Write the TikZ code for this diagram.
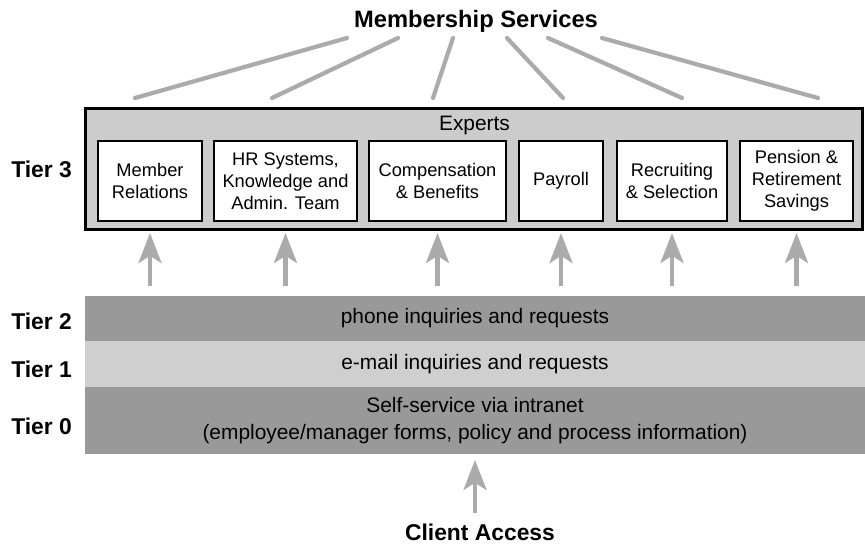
\documentclass[tikz,border=0pt]{standalone}
\usepackage{fontspec}
\setmainfont{Liberation Sans}
\usetikzlibrary{positioning, arrows.meta}

\definecolor{framegray}{gray}{0.80}
\definecolor{darkband}{gray}{0.60}
\definecolor{lightband}{gray}{0.81}
\definecolor{spokegray}{gray}{0.67}

\begin{document}
\begin{tikzpicture}[x=0.02cm, y=-0.02cm,
    tierlabel/.style={font=\fontsize{13}{15}\selectfont\bfseries, inner sep=0pt},
    expert/.style={draw, line width=1.1pt, fill=white, minimum height=1.6cm, align=center, inner sep=0pt, font=\fontsize{10.4}{12.5}\selectfont},
    band/.style={minimum width=15.6cm, inner sep=0pt, outer sep=0pt, align=center, font=\fontsize{11.9}{15.3}\selectfont},
    spoke/.style={draw=spokegray, line width=2.4pt, line cap=round},
    uparrow/.style={draw=spokegray, line width=2.8pt, -{Stealth[length=17pt, width=13pt, inset=4pt]}}]
        \useasboundingbox (0,0) rectangle (865,544);
        % Experts frame
        \node[draw, line width=1.7pt, fill=framegray, minimum width=15.54cm, minimum height=2.42cm, inner sep=0pt] (experts) at (474,169) {};
        \node[font=\fontsize{11.9}{14}\selectfont, inner sep=0pt, anchor=base] (exphead) at (474.5,131) {Experts};
        \node[expert, minimum width=2.08cm] (mem) at (150,181) {Member\\Relations};
        \node[expert, minimum width=2.86cm] (hr) at (285.5,181) {HR Systems,\\Knowledge and\\Admin. Team};
        \node[expert, minimum width=2.74cm] (comp) at (437.5,181) {Compensation\\\& Benefits};
        \node[expert, minimum width=1.68cm] (pay) at (561,181) {Payroll};
        \node[expert, minimum width=2.2cm] (rec) at (672,181) {Recruiting\\\& Selection};
        \node[expert, minimum width=2.26cm] (pen) at (796.5,181) {Pension \&\\Retirement\\Savings};
        % Tier bands
        \node[band, fill=darkband, minimum height=0.9cm] (tier2) at (475,318.5) {phone inquiries and requests};
        \node[band, fill=lightband, minimum height=0.92cm, below=0pt of tier2] (tier1) {e-mail inquiries and requests};
        \node[band, fill=darkband, minimum height=1.34cm, below=0pt of tier1] (tier0) {Self-service via intranet\\(employee/manager forms, policy and process information)};
        % Labels
        \node[tierlabel, font=\fontsize{13.5}{15}\selectfont\bfseries, anchor=base] (title) at (476,28) {Membership Services};
        \node[tierlabel, anchor=base] (access) at (480,540) {Client Access};
        \node[tierlabel, anchor=base west] (t3) at (11,177) {Tier 3};
        \node[tierlabel, anchor=base west] (t2) at (11,329) {Tier 2};
        \node[tierlabel, anchor=base west] (t1) at (11,377) {Tier 1};
        \node[tierlabel, anchor=base west] (t0) at (11,434) {Tier 0};
        % Spokes from the title
        \foreach \i/\a/\b in {1/347/135, 2/398/272, 3/453/433, 4/507/563, 5/548/682, 6/602/818} {
            \coordinate (top\i) at (\a,38);
            \coordinate (foot\i) at (\b,98);
            \draw[spoke] (top\i) -- (foot\i);
        }
        % Arrows up
        \coordinate (tailrow) at (0,286);
        \coordinate (tiprow) at (0,233);
        \foreach \n in {mem,hr,comp,pay,rec,pen}
            \draw[uparrow] (\n |- tailrow) -- (\n |- tiprow);
        \coordinate (accesstail) at (475,513);
        \draw[uparrow] (accesstail) -- ([yshift=-3.4pt]tier0.south);
    \end{tikzpicture}
\end{document}
